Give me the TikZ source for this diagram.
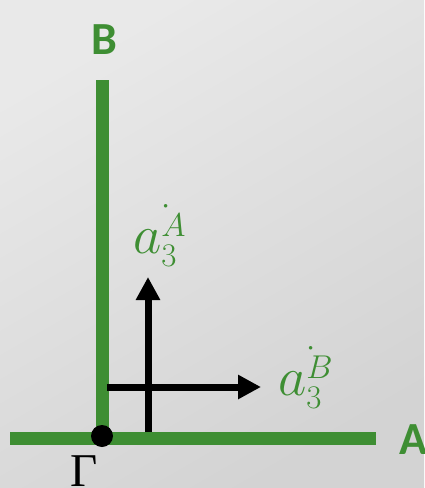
\RequirePackage{fix-cm}
\documentclass[tikz,border=0pt]{standalone}
\usepackage{amsmath}
\usepackage{fontspec}
\newfontfamily\axisfont{Carlito}
\newfontfamily\greekfont{Liberation Serif}
\usetikzlibrary{arrows.meta}
\definecolor{leafgreen}{RGB}{62,142,51}
\definecolor{bglight}{RGB}{233,233,233}
\definecolor{bgdark}{RGB}{211,211,211}
\DeclareMathSizes{55}{55}{33}{26}
\newcommand{\unitvec}[1]{$a^{\lower3pt\hbox{$\scriptstyle\rlap{\raisebox{22pt}{$\scriptstyle\cdot$}}#1$}}_{3}$}

\begin{document}
\begin{tikzpicture}[
  x=1pt,y=-1pt,
  axis/.style={draw=leafgreen,line width=13pt},
  vec/.style={draw=black,line width=7pt,
              -{Triangle[length=23pt,width=23pt]}},
  axislabel/.style={text=leafgreen,inner sep=0pt,
                    font=\axisfont\bfseries\fontsize{46}{50}\selectfont},
  veclabel/.style={text=leafgreen,inner sep=0pt,anchor=base west,
                   font=\fontsize{55}{60}\selectfont},
  origin/.style={circle,fill=black,inner sep=0pt,minimum size=22pt}
]
\shade[top color=bglight,bottom color=bgdark,shading angle=30]
  (0,0) rectangle (424,488);
\useasboundingbox (0,0) rectangle (424,488);

% axes
\coordinate (G) at (102,438);
\coordinate (Btop) at (102,80);
\coordinate (Aleft) at (10,438);
\coordinate (Aright) at (376,438);
\draw[axis] (Aleft) -- (Aright);
\draw[axis] (G) -- (Btop);
\node[axislabel] (B) at (104,40) {B};
\node[axislabel,anchor=west] (A) at (399,440) {A};

% origin
\node[origin] (gdot) at (102,436) {};
\node[inner sep=0pt,font=\greekfont\fontsize{47}{50}\selectfont] (gamma) at (84,471) {Γ};

% unit vectors
\coordinate (vbase) at (148,432);
\coordinate (vtip) at (148,277);
\coordinate (hbase) at (107,387);
\coordinate (htip) at (261,387);
\draw[vec] (vbase) -- (vtip);
\draw[vec] (hbase) -- (htip);
\node[veclabel] (aA) at (133,253) {\unitvec{A}};
\node[veclabel] (aB) at (278,395) {\unitvec{B}};
\end{tikzpicture}
\end{document}
